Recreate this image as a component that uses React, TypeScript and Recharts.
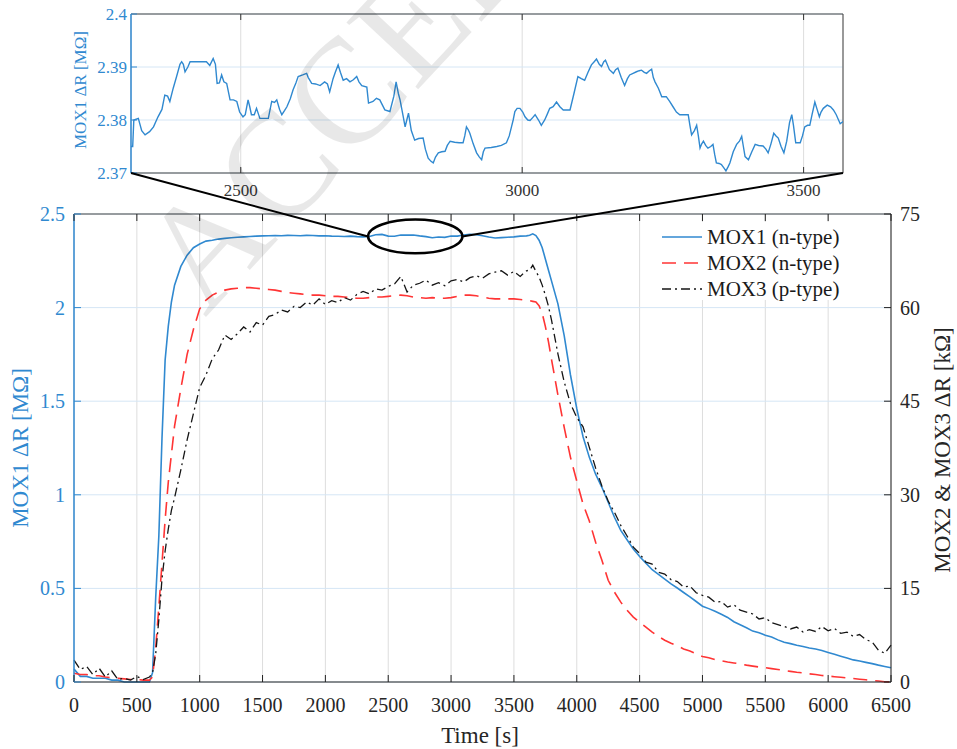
import React from 'react';
import {
  LineChart,
  Line,
  XAxis,
  YAxis,
  CartesianGrid,
  ReferenceLine
} from 'recharts';

// time axis of the main plot [s]
const timeS = [
  0, 50, 100, 150, 200, 250, 300, 350, 400, 450, 500, 550, 600,
  625, 650, 675, 700, 725, 750, 775, 800,
  850, 900, 950, 1000, 1050, 1100, 1150, 1200, 1250, 1300, 1350, 1400, 1450,
  1500, 1550, 1600, 1650, 1700, 1750, 1800, 1850, 1900, 1950,
  2000, 2050, 2100, 2150, 2200, 2250, 2300, 2350, 2400, 2450,
  2500, 2550, 2600, 2650, 2700, 2750, 2800, 2850, 2900, 2950,
  3000, 3050, 3100, 3150, 3200, 3250, 3300, 3350, 3400, 3450,
  3500, 3550, 3600,
  3625, 3650, 3675, 3700, 3725, 3750, 3775, 3800,
  3850, 3900, 3950, 4000, 4050, 4100, 4150, 4200, 4250, 4300,
  4350, 4400, 4450, 4500, 4550, 4600, 4650, 4700, 4750, 4800,
  4850, 4900, 4950, 5000, 5050, 5100, 5150, 5200, 5250, 5300,
  5350, 5400, 5450, 5500, 5550, 5600, 5650, 5700, 5750, 5800,
  5850, 5900, 5950, 6000, 6050, 6100, 6150, 6200, 6250, 6300,
  6350, 6400, 6450, 6500
];

// MOX1 (n-type), MΩ, left axis
const mox1M = [
  0.07, 0.03, 0.03, 0.02, 0.02, 0.02, 0.01, 0.01, 0.0, 0.0, 0.0, 0.0, 0.0,
  0.05, 0.45, 0.78, 1.3, 1.72, 1.9, 2.03, 2.12,
  2.22, 2.28, 2.32, 2.34, 2.355, 2.36, 2.366, 2.37, 2.373, 2.376, 2.378, 2.38, 2.382,
  2.383, 2.384, 2.385, 2.384, 2.386, 2.385, 2.384, 2.386, 2.385, 2.383,
  2.384, 2.382, 2.381, 2.38, 2.382, 2.379, 2.378, 2.38, 2.389, 2.391,
  2.382, 2.381, 2.388, 2.387, 2.388, 2.383, 2.379, 2.373, 2.377, 2.375,
  2.382, 2.382, 2.388, 2.391, 2.389, 2.384, 2.377, 2.372, 2.374, 2.376,
  2.378, 2.382, 2.383,
  2.386, 2.394, 2.385, 2.36, 2.32, 2.26, 2.2, 2.14,
  2.02, 1.85, 1.64, 1.46, 1.31, 1.2, 1.11, 1.04, 0.96, 0.88,
  0.81, 0.76, 0.71, 0.67, 0.635, 0.6, 0.575, 0.55, 0.524, 0.502,
  0.478, 0.455, 0.43, 0.405, 0.392, 0.378, 0.362, 0.345, 0.322, 0.306,
  0.29, 0.272, 0.263, 0.25, 0.24, 0.225, 0.212, 0.205, 0.196, 0.19,
  0.182, 0.176, 0.168, 0.158, 0.148, 0.138, 0.128, 0.118, 0.112, 0.105,
  0.098, 0.09, 0.083, 0.076
];

// MOX2 (n-type), kΩ, right axis
const mox2K = [
  1.4, 1.2, 1.2, 1.0, 1.0, 0.8, 0.7, 0.6, 0.5, 0.4, 0.4, 0.3, 0.3,
  0.8, 5.5, 12, 19, 26, 32, 36.5, 41,
  47, 52.5, 56.5, 59.8, 61.2, 62, 62.5, 62.8, 63, 63.1, 63.2, 63.2, 63.1,
  63, 62.9, 62.8, 62.6, 62.4, 62.3, 62.2, 62.1, 62, 62,
  61.9, 61.8, 61.8, 61.7, 61.6, 61.5, 61.5, 61.6, 61.7, 61.7,
  61.8, 61.9, 62, 61.9, 61.7, 61.6, 61.5, 61.6, 61.5, 61.5,
  61.6, 61.8, 62, 62, 61.9, 61.7, 61.5, 61.4, 61.4, 61.4,
  61.4, 61.3, 61.2,
  61.1, 61.0, 60.9, 60.3, 59.1, 57, 54.5, 51.6,
  46, 40.8, 36, 32.2, 28.5, 25.8, 22.4, 19.5, 16.3, 14.4,
  12.8, 11.5, 10.4, 9.6, 8.8, 8.0, 7.3, 6.7, 6.2, 5.8,
  5.3, 4.95, 4.5, 4.1, 3.9, 3.6, 3.4, 3.2, 3.05, 2.9,
  2.7, 2.55, 2.4, 2.3, 2.15, 2.0, 1.85, 1.7, 1.55, 1.45,
  1.3, 1.2, 1.05, 0.95, 0.85, 0.75, 0.65, 0.55, 0.45, 0.35,
  0.25, 0.15, 0.05, 0
];

// MOX3 (p-type), kΩ, right axis
const mox3K = [
  3.5, 2.0, 2.5, 1.2, 2.2, 0.8, 1.8, 0.4, 0.6, 0.3, 0.9, 0.4, 0.8,
  1.5, 4.5, 10, 16.5, 21, 24.5, 27.5, 29.5,
  34, 38.8, 43, 47.2, 49.2, 51.8, 53.2, 55.6, 54.9, 55.8, 56.9, 56.1, 57.6,
  57.2, 58.6, 58.9, 59.6, 59.3, 60.2, 60.0, 60.9, 60.4, 61.4,
  60.5, 61.1, 60.8, 61.6, 61.2, 62.1, 62.6, 62.2, 63.0, 62.8,
  63.4, 63.8, 65.0, 62.5, 63.6, 63.9, 64.4, 63.6, 64.0, 63.5,
  64.3, 64.5, 64.1, 64.8, 65.1, 64.7, 65.4, 65.7, 65.9, 65.2,
  65.8, 65.0, 65.9,
  66.0, 66.8, 65.8, 64.9, 63.6, 62.0, 60.2, 57.9,
  52.6, 48.1, 44.6, 42.4, 40.9, 37.6, 34.3, 31.4, 29.0, 27.2,
  25.1, 23.4, 21.6, 20.6, 19.2, 18.9, 17.6, 17.3, 16.4, 16.1,
  15.2, 15.4, 14.3, 13.9, 13.6, 12.8, 12.9, 12.0, 12.4, 11.5,
  11.2, 10.9, 10.1, 10.3, 9.5, 9.2, 8.9, 8.5, 8.8, 8.0,
  8.4, 8.1, 8.9, 8.2, 8.6, 7.8, 8.0, 7.3, 7.6, 6.8,
  6.4, 5.1, 4.6, 5.9
];

// zoomed MOX1 trace for the inset
const insetTime = [
  2305, 2308, 2310, 2318, 2324, 2330, 2338, 2345, 2353, 2360,
  2365, 2370, 2374, 2380, 2386, 2392, 2395, 2398, 2401, 2406,
  2410, 2425, 2439, 2445, 2451, 2455, 2458, 2462, 2466, 2470,
  2475, 2481, 2487, 2493, 2498, 2504, 2508, 2513, 2516, 2519,
  2524, 2528, 2534, 2549, 2555, 2560, 2564, 2569, 2573, 2578,
  2582, 2588, 2593, 2598, 2602, 2610, 2617, 2620, 2626, 2633,
  2641, 2649, 2654, 2658, 2664, 2668, 2673, 2677, 2682, 2688,
  2694, 2700, 2706, 2710, 2715, 2724, 2727, 2735, 2741, 2747,
  2756, 2765, 2772, 2776, 2780, 2783, 2788, 2792, 2795, 2798,
  2803, 2809, 2816, 2824, 2828, 2833, 2838, 2842, 2846, 2851,
  2857, 2863, 2867, 2872, 2880, 2888, 2895, 2898, 2901, 2904,
  2907, 2913, 2919, 2924, 2928, 2931, 2934, 2945, 2955, 2963,
  2972, 2977, 2981, 2984, 2987, 2991, 2996, 3001, 3005, 3010,
  3014, 3019, 3023, 3029, 3034, 3040, 3045, 3049, 3055, 3061,
  3067, 3073, 3080, 3085, 3092, 3099, 3105, 3111, 3117, 3123,
  3128, 3132, 3137, 3141, 3145, 3148, 3155, 3162, 3166, 3170,
  3176, 3182, 3187, 3191, 3197, 3203, 3208, 3212, 3217, 3221,
  3226, 3230, 3233, 3236, 3242, 3248, 3256, 3262, 3268, 3274,
  3280, 3288, 3295, 3298, 3301, 3306, 3310, 3313, 3316, 3319,
  3322, 3326, 3330, 3335, 3339, 3342, 3345, 3350, 3354, 3358,
  3362, 3366, 3369, 3375, 3381, 3386, 3390, 3393, 3396, 3402,
  3408, 3414, 3420, 3428, 3433, 3437, 3442, 3447, 3451, 3455,
  3460, 3465, 3470, 3475, 3479, 3482, 3486, 3494, 3498, 3502,
  3507, 3511, 3515, 3520, 3524, 3528, 3531, 3535, 3542, 3548,
  3553, 3558, 3565, 3570
];

const insetMox1 = [
  2.375, 2.375, 2.380, 2.3803, 2.378, 2.3772, 2.3778, 2.3787, 2.3806, 2.382,
  2.3847, 2.3845, 2.3835, 2.386, 2.3882, 2.3905, 2.391, 2.3905, 2.3891, 2.390,
  2.391, 2.391, 2.391, 2.3903, 2.3916, 2.3905, 2.3869, 2.387, 2.3885, 2.3872,
  2.3869, 2.3838, 2.3838, 2.3835, 2.3815, 2.3806, 2.381, 2.3838, 2.3825, 2.381,
  2.381, 2.3822, 2.3803, 2.3803, 2.3835, 2.3833, 2.3838, 2.382, 2.381, 2.3818,
  2.3825, 2.384, 2.3857, 2.387, 2.3882, 2.3885, 2.3888, 2.388, 2.3869, 2.3868,
  2.3865, 2.3872, 2.3868, 2.3853, 2.3878, 2.389, 2.3904, 2.389, 2.3875, 2.3878,
  2.3872, 2.3876, 2.3882, 2.3872, 2.3865, 2.3862, 2.3832, 2.3835, 2.3841, 2.3838,
  2.3819, 2.3816, 2.3845, 2.3872, 2.385, 2.3838, 2.381, 2.3787, 2.380, 2.3813,
  2.378, 2.3762, 2.3765, 2.3766, 2.3745, 2.3728, 2.3722, 2.3719, 2.373, 2.3738,
  2.374, 2.3741, 2.3752, 2.376, 2.3758, 2.3757, 2.3757, 2.377, 2.3787, 2.3782,
  2.3775, 2.3755, 2.3738, 2.373, 2.3725, 2.374, 2.3747, 2.3748, 2.375, 2.3752,
  2.3757, 2.377, 2.3787, 2.380, 2.3816, 2.3822, 2.3822, 2.3815, 2.3806, 2.380,
  2.3799, 2.3805, 2.381, 2.380, 2.379, 2.380, 2.3812, 2.3822, 2.3825, 2.3834,
  2.3825, 2.3819, 2.3819, 2.3819, 2.385, 2.3882, 2.3878, 2.3875, 2.389, 2.3904,
  2.391, 2.3915, 2.3905, 2.3901, 2.391, 2.3913, 2.3895, 2.3888, 2.3895, 2.3898,
  2.388, 2.3865, 2.3878, 2.3885, 2.3888, 2.3891, 2.3893, 2.3894, 2.389, 2.3888,
  2.3893, 2.3896, 2.388, 2.3872, 2.386, 2.3844, 2.3844, 2.3835, 2.3825, 2.3815,
  2.381, 2.381, 2.381, 2.379, 2.3772, 2.378, 2.379, 2.377, 2.3747, 2.3755,
  2.376, 2.3752, 2.3747, 2.375, 2.3754, 2.3735, 2.3719, 2.3718, 2.3716, 2.371,
  2.3704, 2.3712, 2.3719, 2.374, 2.3754, 2.376, 2.3769, 2.375, 2.3731, 2.3725,
  2.374, 2.3754, 2.3752, 2.3751, 2.3745, 2.3738, 2.3755, 2.3775, 2.377, 2.3766,
  2.375, 2.3738, 2.376, 2.3795, 2.381, 2.379, 2.3757, 2.3757, 2.377, 2.3787,
  2.379, 2.379, 2.381, 2.3834, 2.382, 2.3806, 2.3815, 2.3822, 2.3828, 2.3825,
  2.3819, 2.381, 2.3793, 2.3797
];

const xTicks = [0, 500, 1000, 1500, 2000, 2500, 3000, 3500, 4000, 4500, 5000, 5500, 6000, 6500];
const leftTicks = [0, 0.5, 1, 1.5, 2, 2.5];
const rightTicks = [0, 15, 30, 45, 60, 75];
const insetXTicks = [2500, 3000, 3500];
const insetYTicks = [2.37, 2.38, 2.39, 2.4];

const seriesNames = ['MOX1 (n-type)', 'MOX2 (n-type)', 'MOX3 (p-type)'];

// region of the main plot that the inset magnifies (ellipse)
const zoomTime = [2340, 3090];
const zoomLevel = [2.29, 2.47];

const mainRows = timeS.map((t, i) => ({ t, mox1: mox1M[i], mox2: mox2K[i], mox3: mox3K[i] }));
const insetRows = insetTime.map((t, i) => ({ t, mox1: insetMox1[i] }));

const W = 957;
const H = 749;
const MAIN = { left: 74, right: 891, top: 214, bottom: 682 };
const INSET = { left: 131, right: 843, top: 14, bottom: 173 };
const X_DOMAIN = [0, 6500];
const INSET_X = [2305, 3570];

const BLUE = '#3089d0';
const RED = '#ff3434';
const DARK = '#151515';
const FONT = 'Liberation Serif, DejaVu Serif, serif';

const mx = (t: number) => MAIN.left + ((t - X_DOMAIN[0]) / (X_DOMAIN[1] - X_DOMAIN[0])) * (MAIN.right - MAIN.left);
const my = (v: number) => MAIN.bottom - (v / 2.5) * (MAIN.bottom - MAIN.top);

const styles = [
  { color: BLUE, dash: undefined, width: 1.6 },
  { color: RED, dash: '14 8', width: 1.6 },
  { color: DARK, dash: '9 4 2 4', width: 1.3 }
];

function MainXTick({ x, payload }: any) {
  return (
    <g>
      <line x1={x} x2={x} y1={MAIN.bottom} y2={MAIN.bottom - 7} stroke="#222" />
      <line x1={x} x2={x} y1={MAIN.top} y2={MAIN.top + 7} stroke="#222" />
      <text x={x} y={MAIN.bottom + 30} textAnchor="middle" fontSize={20} fontFamily={FONT} fill="#262626">
        {payload.value}
      </text>
    </g>
  );
}

function MainLeftTick({ y, payload }: any) {
  return (
    <g>
      <line x1={MAIN.left} x2={MAIN.left + 7} y1={y} y2={y} stroke={BLUE} />
      <text x={MAIN.left - 9} y={y} dy="0.35em" textAnchor="end" fontSize={20} fontFamily={FONT} fill={BLUE}>
        {payload.value}
      </text>
    </g>
  );
}

function MainRightTick({ y, payload }: any) {
  return (
    <g>
      <line x1={MAIN.right} x2={MAIN.right - 7} y1={y} y2={y} stroke="#222" />
      <text x={MAIN.right + 9} y={y} dy="0.35em" textAnchor="start" fontSize={20} fontFamily={FONT} fill="#262626">
        {payload.value}
      </text>
    </g>
  );
}

function InsetXTick({ x, payload }: any) {
  return (
    <g>
      <line x1={x} x2={x} y1={INSET.bottom} y2={INSET.bottom - 6} stroke="#333" />
      <line x1={x} x2={x} y1={INSET.top} y2={INSET.top + 6} stroke="#333" />
      <text x={x} y={INSET.bottom + 23} textAnchor="middle" fontSize={17} fontFamily={FONT} fill="#333">
        {payload.value}
      </text>
    </g>
  );
}

function InsetYTick({ y, payload }: any) {
  return (
    <g>
      <line x1={INSET.left} x2={INSET.left + 6} y1={y} y2={y} stroke={BLUE} />
      <text x={INSET.left - 4} y={y} dy="0.35em" textAnchor="end" fontSize={17} fontFamily={FONT} fill={BLUE}>
        {payload.value}
      </text>
    </g>
  );
}

export default function App() {
  const ellL = mx(zoomTime[0]);
  const ellR = mx(zoomTime[1]);
  const ellT = my(zoomLevel[1]);
  const ellB = my(zoomLevel[0]);
  const ellCy = (ellT + ellB) / 2;

  return (
    <div style={{ position: 'absolute', left: 0, top: 0, width: W, height: H, background: '#fff', fontFamily: FONT }}>
      {/* main chart */}
      <div style={{ position: 'absolute', left: 0, top: 0 }}>
        <LineChart
          width={W}
          height={H}
          data={mainRows}
          margin={{ top: MAIN.top, right: W - MAIN.right - 50, bottom: H - MAIN.bottom - 50, left: MAIN.left - 60 }}
        >
          <CartesianGrid yAxisId="left" horizontal={false} stroke="#dddddd" />
          <CartesianGrid yAxisId="left" vertical={false} stroke="#d5e6f5" />
          <XAxis
            dataKey="t"
            type="number"
            domain={X_DOMAIN}
            ticks={xTicks}
            interval={0}
            height={50}
            tickSize={0}
            tickMargin={0}
            tickLine={false}
            axisLine={{ stroke: '#222' }}
            tick={<MainXTick />}
          />
          <YAxis
            yAxisId="left"
            domain={[0, 2.5]}
            ticks={leftTicks}
            interval={0}
            width={60}
            tickSize={0}
            tickMargin={0}
            tickLine={false}
            axisLine={{ stroke: BLUE, strokeWidth: 1.5 }}
            tick={<MainLeftTick />}
          />
          <YAxis
            yAxisId="right"
            orientation="right"
            domain={[0, 75]}
            ticks={rightTicks}
            interval={0}
            width={50}
            tickSize={0}
            tickMargin={0}
            tickLine={false}
            axisLine={{ stroke: '#222' }}
            tick={<MainRightTick />}
          />
          <ReferenceLine yAxisId="left" y={2.5} stroke="#444" ifOverflow="extendDomain" />
          <Line
            yAxisId="left"
            type="linear"
            dataKey="mox1"
            name={seriesNames[0]}
            stroke={styles[0].color}
            strokeWidth={styles[0].width}
            dot={false}
            isAnimationActive={false}
          />
          <Line
            yAxisId="right"
            type="linear"
            dataKey="mox2"
            name={seriesNames[1]}
            stroke={styles[1].color}
            strokeWidth={styles[1].width}
            strokeDasharray={styles[1].dash}
            dot={false}
            isAnimationActive={false}
          />
          <Line
            yAxisId="right"
            type="linear"
            dataKey="mox3"
            name={seriesNames[2]}
            stroke={styles[2].color}
            strokeWidth={styles[2].width}
            strokeDasharray={styles[2].dash}
            dot={false}
            isAnimationActive={false}
          />
        </LineChart>
      </div>

      {/* inset */}
      <div style={{ position: 'absolute', left: 0, top: 0 }}>
        <LineChart
          width={W}
          height={200}
          data={insetRows}
          margin={{ top: INSET.top, right: W - INSET.right, bottom: 0, left: INSET.left - 60 }}
        >
          <CartesianGrid horizontal={false} stroke="#dddddd" />
          <CartesianGrid vertical={false} stroke="#d5e6f5" />
          <XAxis
            dataKey="t"
            type="number"
            domain={INSET_X}
            ticks={insetXTicks}
            interval={0}
            height={200 - INSET.bottom}
            tickSize={0}
            tickMargin={0}
            tickLine={false}
            axisLine={{ stroke: '#444' }}
            tick={<InsetXTick />}
            allowDataOverflow
          />
          <YAxis
            domain={[2.37, 2.4]}
            ticks={insetYTicks}
            interval={0}
            width={60}
            tickSize={0}
            tickMargin={0}
            tickLine={false}
            axisLine={{ stroke: BLUE, strokeWidth: 1.5 }}
            tick={<InsetYTick />}
            allowDataOverflow
          />
          <ReferenceLine y={2.4} stroke="#444" ifOverflow="extendDomain" />
          <ReferenceLine x={INSET_X[1]} stroke="#444" ifOverflow="extendDomain" />
          <Line
            type="linear"
            dataKey="mox1"
            name={seriesNames[0]}
            stroke={BLUE}
            strokeWidth={1.4}
            dot={false}
            isAnimationActive={false}
          />
        </LineChart>
      </div>

      {/* annotations, legend, labels, watermark */}
      <svg width={W} height={H} style={{ position: 'absolute', left: 0, top: 0, pointerEvents: 'none' }}>
        <line x1={INSET.left} y1={INSET.bottom} x2={ellL} y2={ellCy} stroke="#000" strokeWidth={2} />
        <line x1={INSET.right} y1={INSET.bottom} x2={ellR} y2={ellCy} stroke="#000" strokeWidth={2} />
        <ellipse
          cx={(ellL + ellR) / 2}
          cy={ellCy}
          rx={(ellR - ellL) / 2}
          ry={(ellB - ellT) / 2}
          fill="none"
          stroke="#000"
          strokeWidth={2.5}
        />

        <rect x={655} y={222} width={190} height={78} fill="#fff" />
        {seriesNames.map((name, i) => {
          const yy = 237 + i * 26;
          return (
            <g key={name}>
              <line
                x1={662}
                x2={702}
                y1={yy}
                y2={yy}
                stroke={styles[i].color}
                strokeWidth={styles[i].width}
                strokeDasharray={styles[i].dash}
              />
              <text x={707} y={yy} dy="0.35em" fontSize={21} fontFamily={FONT} fill="#1a1a1a">
                {name}
              </text>
            </g>
          );
        })}

        <text x={480} y={743} textAnchor="middle" fontSize={23} fontFamily={FONT} fill="#262626">
          Time [s]
        </text>
        <text
          transform="translate(28,448) rotate(-90)"
          textAnchor="middle"
          fontSize={23}
          fontFamily={FONT}
          fill={BLUE}
        >
          MOX1 ΔR [MΩ]
        </text>
        <text
          transform="translate(950,450) rotate(-90)"
          textAnchor="middle"
          fontSize={23}
          fontFamily={FONT}
          fill="#262626"
        >
          MOX2 &amp; MOX3 ΔR [kΩ]
        </text>
        <text
          transform="translate(86,90) rotate(-90)"
          textAnchor="middle"
          fontSize={17}
          fontFamily={FONT}
          fill={BLUE}
        >
          MOX1 ΔR [MΩ]
        </text>

        <text
          transform="translate(205,318) rotate(-47)"
          fontSize={150}
          fontFamily={FONT}
          fill="#000"
          fillOpacity={0.09}
        >
          ACCEPTED
        </text>
      </svg>
    </div>
  );
}
